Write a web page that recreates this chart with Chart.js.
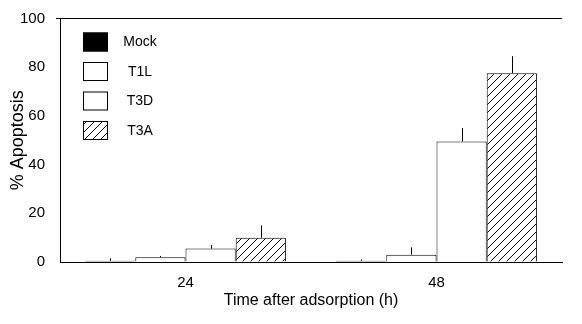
<!DOCTYPE html>
<html>
<head>
<meta charset="utf-8">
<script src="https://cdn.jsdelivr.net/npm/chart.js@4/dist/chart.umd.min.js"></script>
<style>
  html, body { margin: 0; padding: 0; background: #fff; }
  #wrap { width: 582px; height: 324px; position: relative; }
</style>
</head>
<body>
<div id="wrap"><canvas id="apoptosisChart"></canvas></div>
<script>
// values
const timePoints = ["24", "48"];
const seriesNames = ["Mock", "T1L", "T3D", "T3A"];
const mockValues = [0.5, 0.5];
const t1lValues = [2, 3];
const t3dValues = [5.5, 49.5];
const t3aValues = [10, 77.5];
const mockErr = [1.5, 1];
const t1lErr = [2.5, 6];
const t3dErr = [7, 55];
const t3aErr = [15, 84.5];
const yTicks = [0, 20, 40, 60, 80, 100];

const FONT = "'Liberation Sans', Arial, sans-serif";

function hatchPattern() {
  const c = document.createElement("canvas");
  c.width = 8;
  c.height = 8;
  const g = c.getContext("2d");
  g.fillStyle = "#fff";
  g.fillRect(0, 0, 8, 8);
  g.strokeStyle = "#000";
  g.lineWidth = 1;
  g.beginPath();
  g.moveTo(0, 8);
  g.lineTo(8, 0);
  g.moveTo(-2, 2);
  g.lineTo(2, -2);
  g.moveTo(6, 10);
  g.lineTo(10, 6);
  g.stroke();
  return g.createPattern(c, "repeat");
}

const hatch = hatchPattern();

const errorBars = {
  id: "errorBars",
  afterDatasetsDraw(chart) {
    const ctx = chart.ctx;
    const y = chart.scales.y;
    ctx.save();
    ctx.strokeStyle = "#000";
    ctx.lineWidth = 1;
    chart.data.datasets.forEach((ds, i) => {
      const meta = chart.getDatasetMeta(i);
      meta.data.forEach((bar, j) => {
        const top = y.getPixelForValue(ds.data[j]);
        const hi = y.getPixelForValue(ds.err[j]);
        ctx.beginPath();
        ctx.moveTo(Math.round(bar.x) + 0.5, top);
        ctx.lineTo(Math.round(bar.x) + 0.5, hi);
        ctx.stroke();
      });
    });
    ctx.restore();
  },
};

const insideLegend = {
  id: "insideLegend",
  afterDraw(chart) {
    const ctx = chart.ctx;
    const x0 = chart.chartArea.left + 23;
    const y0 = chart.chartArea.top + 23;
    ctx.save();
    ctx.font = "14px " + FONT;
    ctx.textBaseline = "middle";
    ctx.textAlign = "center";
    chart.data.datasets.forEach((ds, i) => {
      const cy = y0 + i * 29.5;
      ctx.fillStyle = ds.backgroundColor;
      ctx.fillRect(x0, cy - 9, 25, 19);
      ctx.strokeStyle = "#000";
      ctx.lineWidth = 1;
      ctx.strokeRect(x0 + 0.5, cy - 8.5, 24, 18);
      ctx.fillStyle = "#000";
      ctx.fillText(ds.label, x0 + 57, cy + 1);
    });
    ctx.restore();
  },
};

const barStyle = {
  borderColor: "#000",
  borderWidth: 1,
  categoryPercentage: 0.8,
  barPercentage: 1.0,
};

new Chart(document.getElementById("apoptosisChart"), {
  type: "bar",
  data: {
    labels: timePoints,
    datasets: [
      { label: seriesNames[0], data: mockValues, err: mockErr, backgroundColor: "#000", ...barStyle },
      { label: seriesNames[1], data: t1lValues, err: t1lErr, backgroundColor: "#fff", ...barStyle },
      { label: seriesNames[2], data: t3dValues, err: t3dErr, backgroundColor: "#fff", ...barStyle },
      { label: seriesNames[3], data: t3aValues, err: t3aErr, backgroundColor: hatch, ...barStyle },
    ],
  },
  options: {
    responsive: true,
    maintainAspectRatio: false,
    animation: false,
    layout: { padding: { top: 16, right: 20, left: 0, bottom: 0 } },
    plugins: {
      legend: { display: false },
      tooltip: { enabled: false },
    },
    scales: {
      x: {
        offset: true,
        grid: { display: false, drawTicks: false },
        border: { display: true, color: "#000", width: 1 },
        ticks: { color: "#000", font: { family: FONT, size: 15 }, padding: 12 },
        title: {
          display: true,
          text: "Time after adsorption (h)",
          color: "#000",
          font: { family: FONT, size: 16 },
          padding: { top: 0, bottom: 14 },
        },
        afterFit(scale) {
          scale.height = 62;
        },
      },
      y: {
        min: 0,
        max: 100,
        afterBuildTicks(scale) {
          scale.ticks = yTicks.map((v) => ({ value: v }));
        },
        grid: {
          drawOnChartArea: true,
          tickLength: 4,
          color: (c) => (c.tick && c.tick.value === 100 ? "#000" : "rgba(0,0,0,0)"),
        },
        border: { display: true, color: "#000", width: 1 },
        ticks: { color: "#000", font: { family: FONT, size: 15, lineHeight: 1 }, padding: 11 },
        title: {
          display: true,
          text: "% Apoptosis",
          color: "#000",
          font: { family: FONT, size: 18 },
          padding: { top: 7, bottom: 0 },
        },
        afterFit(scale) {
          scale.width = 60;
        },
      },
    },
  },
  plugins: [errorBars, insideLegend],
});
</script>
</body>
</html>
